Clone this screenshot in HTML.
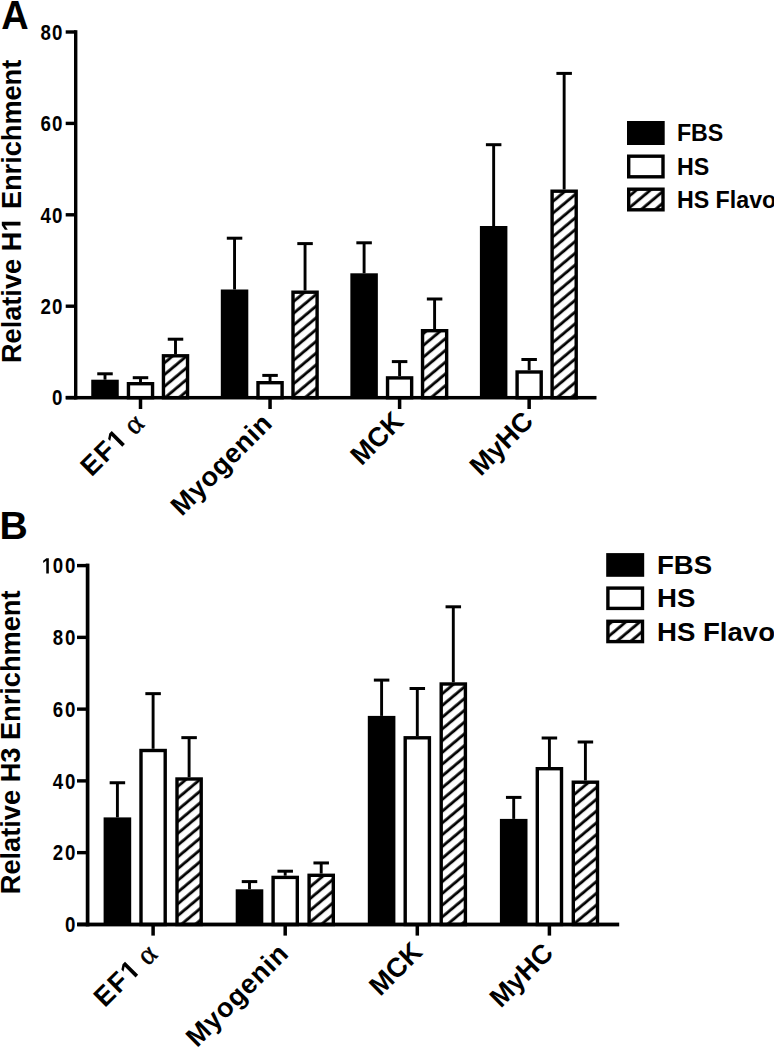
<!DOCTYPE html>
<html><head><meta charset="utf-8"><title>H1 and H3 enrichment chart</title>
<style>html,body{margin:0;padding:0;background:#fff;overflow:hidden;}svg{display:block;}</style>
</head><body>
<svg width="774" height="1050" viewBox="0 0 774 1050" font-family='"Liberation Sans", sans-serif' fill="#000">
<defs><pattern id="hatchA" patternUnits="userSpaceOnUse" width="9" height="9" patternTransform="rotate(-40)"><rect width="9" height="9" fill="#fff"/><rect x="0" y="4.3" width="9" height="2.85" fill="#000"/></pattern><pattern id="hatchB" patternUnits="userSpaceOnUse" width="9" height="9" patternTransform="rotate(-40)"><rect width="9" height="9" fill="#fff"/><rect x="0" y="4.3" width="9" height="2.85" fill="#000"/></pattern></defs>
<rect width="774" height="1050" fill="#fff"/>
<rect x="103.55" y="373.8" width="2.9" height="5.9"/>
<rect x="97.25" y="372.3" width="15.5" height="3"/>
<rect x="91.25" y="379.7" width="27.5" height="18"/>
<rect x="139.05" y="377.7" width="2.9" height="4.3"/>
<rect x="132.75" y="376.2" width="15.5" height="3"/>
<rect x="128.45" y="383.7" width="24.1" height="14" fill="#fff" stroke="#000" stroke-width="3.4"/>
<rect x="174.05" y="339.2" width="2.9" height="14.9"/>
<rect x="167.75" y="337.7" width="15.5" height="3"/>
<rect x="163.45" y="355.8" width="24.1" height="41.9" fill="url(#hatchA)" stroke="#000" stroke-width="3.4"/>
<rect x="233.1" y="238.2" width="2.9" height="51.3"/>
<rect x="226.8" y="236.7" width="15.5" height="3"/>
<rect x="220.8" y="289.5" width="27.5" height="108.2"/>
<rect x="268.6" y="375.4" width="2.9" height="5.6"/>
<rect x="262.3" y="373.9" width="15.5" height="3"/>
<rect x="258" y="382.7" width="24.1" height="15" fill="#fff" stroke="#000" stroke-width="3.4"/>
<rect x="303.6" y="243.6" width="2.9" height="46.9"/>
<rect x="297.3" y="242.1" width="15.5" height="3"/>
<rect x="293" y="292.2" width="24.1" height="105.5" fill="url(#hatchA)" stroke="#000" stroke-width="3.4"/>
<rect x="362.65" y="242.8" width="2.9" height="30.5"/>
<rect x="356.35" y="241.3" width="15.5" height="3"/>
<rect x="350.35" y="273.3" width="27.5" height="124.4"/>
<rect x="398.15" y="361.6" width="2.9" height="14.6"/>
<rect x="391.85" y="360.1" width="15.5" height="3"/>
<rect x="387.55" y="377.9" width="24.1" height="19.8" fill="#fff" stroke="#000" stroke-width="3.4"/>
<rect x="433.15" y="299" width="2.9" height="30"/>
<rect x="426.85" y="297.5" width="15.5" height="3"/>
<rect x="422.55" y="330.7" width="24.1" height="67" fill="url(#hatchA)" stroke="#000" stroke-width="3.4"/>
<rect x="492.2" y="144.7" width="2.9" height="81.3"/>
<rect x="485.9" y="143.2" width="15.5" height="3"/>
<rect x="479.9" y="226" width="27.5" height="171.7"/>
<rect x="527.7" y="359.5" width="2.9" height="10.8"/>
<rect x="521.4" y="358" width="15.5" height="3"/>
<rect x="517.1" y="372" width="24.1" height="25.7" fill="#fff" stroke="#000" stroke-width="3.4"/>
<rect x="562.7" y="73.4" width="2.9" height="116.1"/>
<rect x="556.4" y="71.9" width="15.5" height="3"/>
<rect x="552.1" y="191.2" width="24.1" height="206.5" fill="url(#hatchA)" stroke="#000" stroke-width="3.4"/>
<rect x="74" y="30.2" width="3.4" height="369.25"/>
<rect x="65.8" y="395.95" width="530.7" height="3.5"/>
<rect x="65.7" y="395.9" width="10" height="3.4"/>
<text transform="translate(57.2 405.39) scale(0.85 1)" text-anchor="middle" font-size="22" font-weight="bold">0</text>
<rect x="65.7" y="304.5" width="10" height="3.4"/>
<text transform="translate(45.7 313.99) scale(0.85 1)" text-anchor="middle" font-size="22" font-weight="bold">2</text>
<text transform="translate(57.2 313.99) scale(0.85 1)" text-anchor="middle" font-size="22" font-weight="bold">0</text>
<rect x="65.7" y="213.1" width="10" height="3.4"/>
<text transform="translate(45.7 222.59) scale(0.85 1)" text-anchor="middle" font-size="22" font-weight="bold">4</text>
<text transform="translate(57.2 222.59) scale(0.85 1)" text-anchor="middle" font-size="22" font-weight="bold">0</text>
<rect x="65.7" y="121.7" width="10" height="3.4"/>
<text transform="translate(45.7 131.19) scale(0.85 1)" text-anchor="middle" font-size="22" font-weight="bold">6</text>
<text transform="translate(57.2 131.19) scale(0.85 1)" text-anchor="middle" font-size="22" font-weight="bold">0</text>
<rect x="65.7" y="30.3" width="10" height="3.4"/>
<text transform="translate(45.7 39.79) scale(0.85 1)" text-anchor="middle" font-size="22" font-weight="bold">8</text>
<text transform="translate(57.2 39.79) scale(0.85 1)" text-anchor="middle" font-size="22" font-weight="bold">0</text>
<rect x="138.75" y="397.7" width="3.5" height="11.3"/>
<rect x="268.3" y="397.7" width="3.5" height="11.3"/>
<rect x="397.85" y="397.7" width="3.5" height="11.3"/>
<rect x="527.4" y="397.7" width="3.5" height="11.3"/>
<g>
<g transform="translate(145.6 423.4) rotate(-45)"><text x="-76.39" y="0" font-size="27" font-weight="bold">E</text><text x="-57.08" y="0" font-size="27" font-weight="bold">F</text><path d="M478 0V1170L140 959V1180L493 1409H759V0Z" transform="translate(-39.29 0) scale(0.01318 -0.01318)"/><text x="-16.55" y="1.1" font-size="29" font-family="Liberation Serif, serif" stroke="#000" stroke-width="0.5">&#945;</text></g>
<text x="273.45" y="425.1" text-anchor="end" font-size="27" font-weight="bold" textLength="129.8" lengthAdjust="spacing" transform="rotate(-45 273.45 425.1)">Myogenin</text>
<text x="405.12" y="422.98" text-anchor="end" font-size="27" font-weight="bold" transform="rotate(-45 405.12 422.98)">MCK</text>
<text x="534.88" y="422.77" text-anchor="end" font-size="27" font-weight="bold" transform="rotate(-45 534.88 422.77)">MyHC</text>
</g>
<rect x="627" y="121" width="37.7" height="24"/>
<text transform="translate(676.9 140.88) scale(1.01 1)" font-size="23" font-weight="bold">FBS</text>
<rect x="628.7" y="156.2" width="34.3" height="20.6" fill="#fff" stroke="#000" stroke-width="3.4"/>
<text transform="translate(676.9 174.58) scale(1.01 1)" font-size="23" font-weight="bold">HS</text>
<rect x="628.7" y="189.2" width="34.3" height="20.6" fill="url(#hatchA)" stroke="#000" stroke-width="3.4"/>
<text transform="translate(676.9 208.38) scale(1.01 1)" font-size="23" font-weight="bold">HS Flavo</text>
<rect x="115.95" y="782.75" width="2.9" height="34.65"/>
<rect x="109.65" y="781.25" width="15.5" height="3"/>
<rect x="103.6" y="817.4" width="27.6" height="107.1"/>
<rect x="151.65" y="693.65" width="2.9" height="55.15"/>
<rect x="145.35" y="692.15" width="15.5" height="3"/>
<rect x="141" y="750.5" width="24.2" height="174" fill="#fff" stroke="#000" stroke-width="3.4"/>
<rect x="187.65" y="737.65" width="2.9" height="39.65"/>
<rect x="181.35" y="736.15" width="15.5" height="3"/>
<rect x="177" y="779" width="24.2" height="145.5" fill="url(#hatchB)" stroke="#000" stroke-width="3.4"/>
<rect x="248.05" y="881.6" width="2.9" height="7.7"/>
<rect x="241.75" y="880.1" width="15.5" height="3"/>
<rect x="235.7" y="889.3" width="27.6" height="35.2"/>
<rect x="283.75" y="871.2" width="2.9" height="4.5"/>
<rect x="277.45" y="869.7" width="15.5" height="3"/>
<rect x="273.1" y="877.4" width="24.2" height="47.1" fill="#fff" stroke="#000" stroke-width="3.4"/>
<rect x="319.75" y="862.95" width="2.9" height="10.65"/>
<rect x="313.45" y="861.45" width="15.5" height="3"/>
<rect x="309.1" y="875.3" width="24.2" height="49.2" fill="url(#hatchB)" stroke="#000" stroke-width="3.4"/>
<rect x="380.15" y="680.1" width="2.9" height="35.8"/>
<rect x="373.85" y="678.6" width="15.5" height="3"/>
<rect x="367.8" y="715.9" width="27.6" height="208.6"/>
<rect x="415.85" y="688.5" width="2.9" height="47.6"/>
<rect x="409.55" y="687" width="15.5" height="3"/>
<rect x="405.2" y="737.8" width="24.2" height="186.7" fill="#fff" stroke="#000" stroke-width="3.4"/>
<rect x="451.85" y="606.8" width="2.9" height="75.5"/>
<rect x="445.55" y="605.3" width="15.5" height="3"/>
<rect x="441.2" y="684" width="24.2" height="240.5" fill="url(#hatchB)" stroke="#000" stroke-width="3.4"/>
<rect x="512.25" y="797.4" width="2.9" height="21.5"/>
<rect x="505.95" y="795.9" width="15.5" height="3"/>
<rect x="499.9" y="818.9" width="27.6" height="105.6"/>
<rect x="547.95" y="738" width="2.9" height="29"/>
<rect x="541.65" y="736.5" width="15.5" height="3"/>
<rect x="537.3" y="768.7" width="24.2" height="155.8" fill="#fff" stroke="#000" stroke-width="3.4"/>
<rect x="583.95" y="742" width="2.9" height="38.5"/>
<rect x="577.65" y="740.5" width="15.5" height="3"/>
<rect x="573.3" y="782.2" width="24.2" height="142.3" fill="url(#hatchB)" stroke="#000" stroke-width="3.4"/>
<rect x="85.75" y="563.6" width="3.7" height="362.8"/>
<rect x="77.2" y="922.6" width="542" height="3.8"/>
<rect x="77" y="922.7" width="10.6" height="3.4"/>
<text transform="translate(70.2 932.19) scale(0.85 1)" text-anchor="middle" font-size="22" font-weight="bold">0</text>
<rect x="77" y="850.94" width="10.6" height="3.4"/>
<text transform="translate(57.9 860.43) scale(0.85 1)" text-anchor="middle" font-size="22" font-weight="bold">2</text>
<text transform="translate(70.2 860.43) scale(0.85 1)" text-anchor="middle" font-size="22" font-weight="bold">0</text>
<rect x="77" y="779.18" width="10.6" height="3.4"/>
<text transform="translate(57.9 788.67) scale(0.85 1)" text-anchor="middle" font-size="22" font-weight="bold">4</text>
<text transform="translate(70.2 788.67) scale(0.85 1)" text-anchor="middle" font-size="22" font-weight="bold">0</text>
<rect x="77" y="707.42" width="10.6" height="3.4"/>
<text transform="translate(57.9 716.91) scale(0.85 1)" text-anchor="middle" font-size="22" font-weight="bold">6</text>
<text transform="translate(70.2 716.91) scale(0.85 1)" text-anchor="middle" font-size="22" font-weight="bold">0</text>
<rect x="77" y="635.66" width="10.6" height="3.4"/>
<text transform="translate(57.9 645.15) scale(0.85 1)" text-anchor="middle" font-size="22" font-weight="bold">8</text>
<text transform="translate(70.2 645.15) scale(0.85 1)" text-anchor="middle" font-size="22" font-weight="bold">0</text>
<rect x="77" y="563.9" width="10.6" height="3.4"/>
<path d="M478 0V1170L140 959V1180L493 1409H759V0Z" transform="translate(41.9 573.39) scale(0.00913 -0.01074)"/>
<text transform="translate(57.9 573.39) scale(0.85 1)" text-anchor="middle" font-size="22" font-weight="bold">0</text>
<text transform="translate(70.2 573.39) scale(0.85 1)" text-anchor="middle" font-size="22" font-weight="bold">0</text>
<rect x="151.35" y="924.5" width="3.5" height="11.1"/>
<rect x="283.45" y="924.5" width="3.5" height="11.1"/>
<rect x="415.55" y="924.5" width="3.5" height="11.1"/>
<rect x="547.65" y="924.5" width="3.5" height="11.1"/>
<g>
<g transform="translate(158.94 954.06) rotate(-45)"><text x="-76.59" y="0" font-size="27" font-weight="bold">E</text><text x="-57.23" y="0" font-size="27" font-weight="bold">F</text><path d="M478 0V1170L140 959V1180L493 1409H759V0Z" transform="translate(-39.39 0) scale(0.01318 -0.01318)"/><text x="-16.55" y="1.1" font-size="29" font-family="Liberation Serif, serif" stroke="#000" stroke-width="0.5">&#945;</text></g>
<text x="289.7" y="955.4" text-anchor="end" font-size="27" font-weight="bold" textLength="131.2" lengthAdjust="spacing" transform="rotate(-45 289.7 955.4)">Myogenin</text>
<text x="423.78" y="953.42" text-anchor="end" font-size="27" font-weight="bold" transform="rotate(-45 423.78 953.42)">MCK</text>
<text x="554.75" y="954.55" text-anchor="end" font-size="27" font-weight="bold" transform="rotate(-45 554.75 954.55)">MyHC</text>
</g>
<rect x="606.2" y="553.1" width="38" height="23.7"/>
<text transform="translate(657 574.05) scale(1.045 1)" font-size="26.4" font-weight="bold">FBS</text>
<rect x="607.9" y="588.1" width="34.6" height="20.3" fill="#fff" stroke="#000" stroke-width="3.4"/>
<text transform="translate(657 607.45) scale(1.045 1)" font-size="26.4" font-weight="bold">HS</text>
<rect x="607.9" y="621.3" width="34.6" height="20.3" fill="url(#hatchB)" stroke="#000" stroke-width="3.4"/>
<text transform="translate(657 640.65) scale(1.045 1)" font-size="26.4" font-weight="bold">HS Flavo</text>
<g transform="translate(20.5 363) rotate(-90)"><text x="0" y="0" font-size="27.15" font-weight="bold">Relative H</text><path d="M478 0V1170L140 959V1180L493 1409H759V0Z" transform="translate(131.28 0) scale(0.01326 -0.01326)"/><text x="153.94" y="0" font-size="27.15" font-weight="bold">Enrichment</text></g>
<text x="20.5" y="894.2" font-size="27.2" font-weight="bold" transform="rotate(-90 20.5 894.2)">Relative H3 Enrichment</text>
<text transform="translate(1.3 28.9) scale(0.95 1)" font-size="40" font-weight="bold">A</text>
<text x="-0.6" y="538.8" font-size="39.2" font-weight="bold">B</text>
</svg>
</body></html>
